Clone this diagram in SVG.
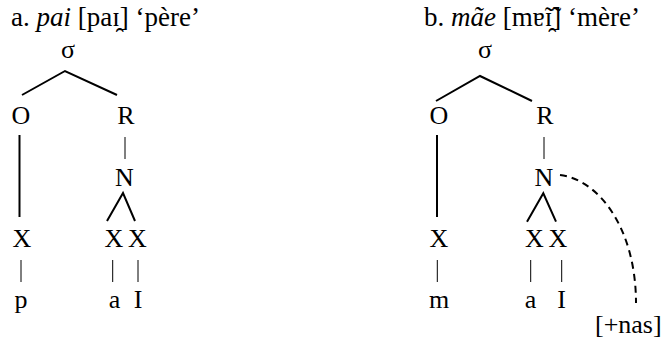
<svg xmlns="http://www.w3.org/2000/svg" width="663" height="346" viewBox="0 0 663 346">
<style>
.n{text-anchor:middle}
.thick{stroke:#000;stroke-width:2;fill:none}
.thin{stroke:#000;stroke-width:1;fill:none}
.dash{stroke:#000;stroke-width:2;fill:none;stroke-dasharray:7 5}
</style>
<rect width="663" height="346" fill="#fff"/>
<g id="title-a"><text font-family="Liberation Serif" font-size="27" x="11" y="26">a. <tspan font-style="italic">pai</tspan> [paɪ̯] ‘père’</text></g>
<g id="title-b"><text font-family="Liberation Serif" font-size="27" x="424" y="26">b. <tspan font-style="italic">mãe</tspan> [mɐ̃ɪ̯̃] ‘mère’</text></g>

<g id="a-sigma"><text font-family="Liberation Serif" font-size="26" class="n" x="68" y="58">σ</text></g>
<g id="a-O"><text font-family="Liberation Serif" font-size="26" class="n" x="21" y="124">O</text></g>
<g id="a-R"><text font-family="Liberation Serif" font-size="26" class="n" x="126" y="124">R</text></g>
<g id="a-N"><text font-family="Liberation Serif" font-size="26" class="n" x="124.5" y="186">N</text></g>
<g id="a-X1"><text font-family="Liberation Serif" font-size="26" class="n" x="22" y="247">X</text></g>
<g id="a-X2"><text font-family="Liberation Serif" font-size="26" class="n" x="114" y="247">X</text></g>
<g id="a-X3"><text font-family="Liberation Serif" font-size="26" class="n" x="137.5" y="247">X</text></g>
<g id="a-p"><text font-family="Liberation Serif" font-size="26" class="n" x="21" y="308">p</text></g>
<g id="a-a"><text font-family="Liberation Serif" font-size="26" class="n" x="114.5" y="308">a</text></g>
<g id="a-I"><text font-family="Liberation Serif" font-size="26" class="n" x="138" y="308">I</text></g>

<g id="b-sigma"><text font-family="Liberation Serif" font-size="26" class="n" x="485" y="58">σ</text></g>
<g id="b-O"><text font-family="Liberation Serif" font-size="26" class="n" x="439" y="124">O</text></g>
<g id="b-R"><text font-family="Liberation Serif" font-size="26" class="n" x="545" y="124">R</text></g>
<g id="b-N"><text font-family="Liberation Serif" font-size="26" class="n" x="544" y="186">N</text></g>
<g id="b-X1"><text font-family="Liberation Serif" font-size="26" class="n" x="439" y="247">X</text></g>
<g id="b-X2"><text font-family="Liberation Serif" font-size="26" class="n" x="534.5" y="247">X</text></g>
<g id="b-X3"><text font-family="Liberation Serif" font-size="26" class="n" x="558" y="247">X</text></g>
<g id="b-m"><text font-family="Liberation Serif" font-size="26" class="n" x="439" y="308">m</text></g>
<g id="b-a"><text font-family="Liberation Serif" font-size="26" class="n" x="530.5" y="308">a</text></g>
<g id="b-I"><text font-family="Liberation Serif" font-size="26" class="n" x="561.5" y="308">I</text></g>
<g id="b-nas"><text font-family="Liberation Serif" font-size="26" x="595" y="333">[+nas]</text></g>

<g id="connectors">
<polyline class="thick" points="22,95 65,71 117,95"/>
<line class="thick" x1="19.5" y1="135" x2="19.5" y2="217"/>
<line class="thin" x1="125" y1="137" x2="125" y2="159"/>
<polyline class="thick" points="107,221 123,193 135,221"/>
<line class="thin" x1="21" y1="260" x2="21" y2="282"/>
<line class="thin" x1="112.7" y1="260" x2="112.7" y2="282"/>
<line class="thin" x1="138" y1="260" x2="138" y2="282"/>

<polyline class="thick" points="436,101 480,76 532,101"/>
<line class="thick" x1="437" y1="135" x2="437" y2="217"/>
<line class="thin" x1="544" y1="137" x2="544" y2="159"/>
<polyline class="thick" points="527,221.7 543.3,193.3 556,221.7"/>
<line class="thin" x1="437.3" y1="260" x2="437.3" y2="282"/>
<line class="thin" x1="530.7" y1="260" x2="530.7" y2="282"/>
<line class="thin" x1="561.7" y1="260" x2="561.7" y2="282"/>
<path class="dash" d="M560,175 C600,180 636,230 636,303"/>
</g>
</svg>
